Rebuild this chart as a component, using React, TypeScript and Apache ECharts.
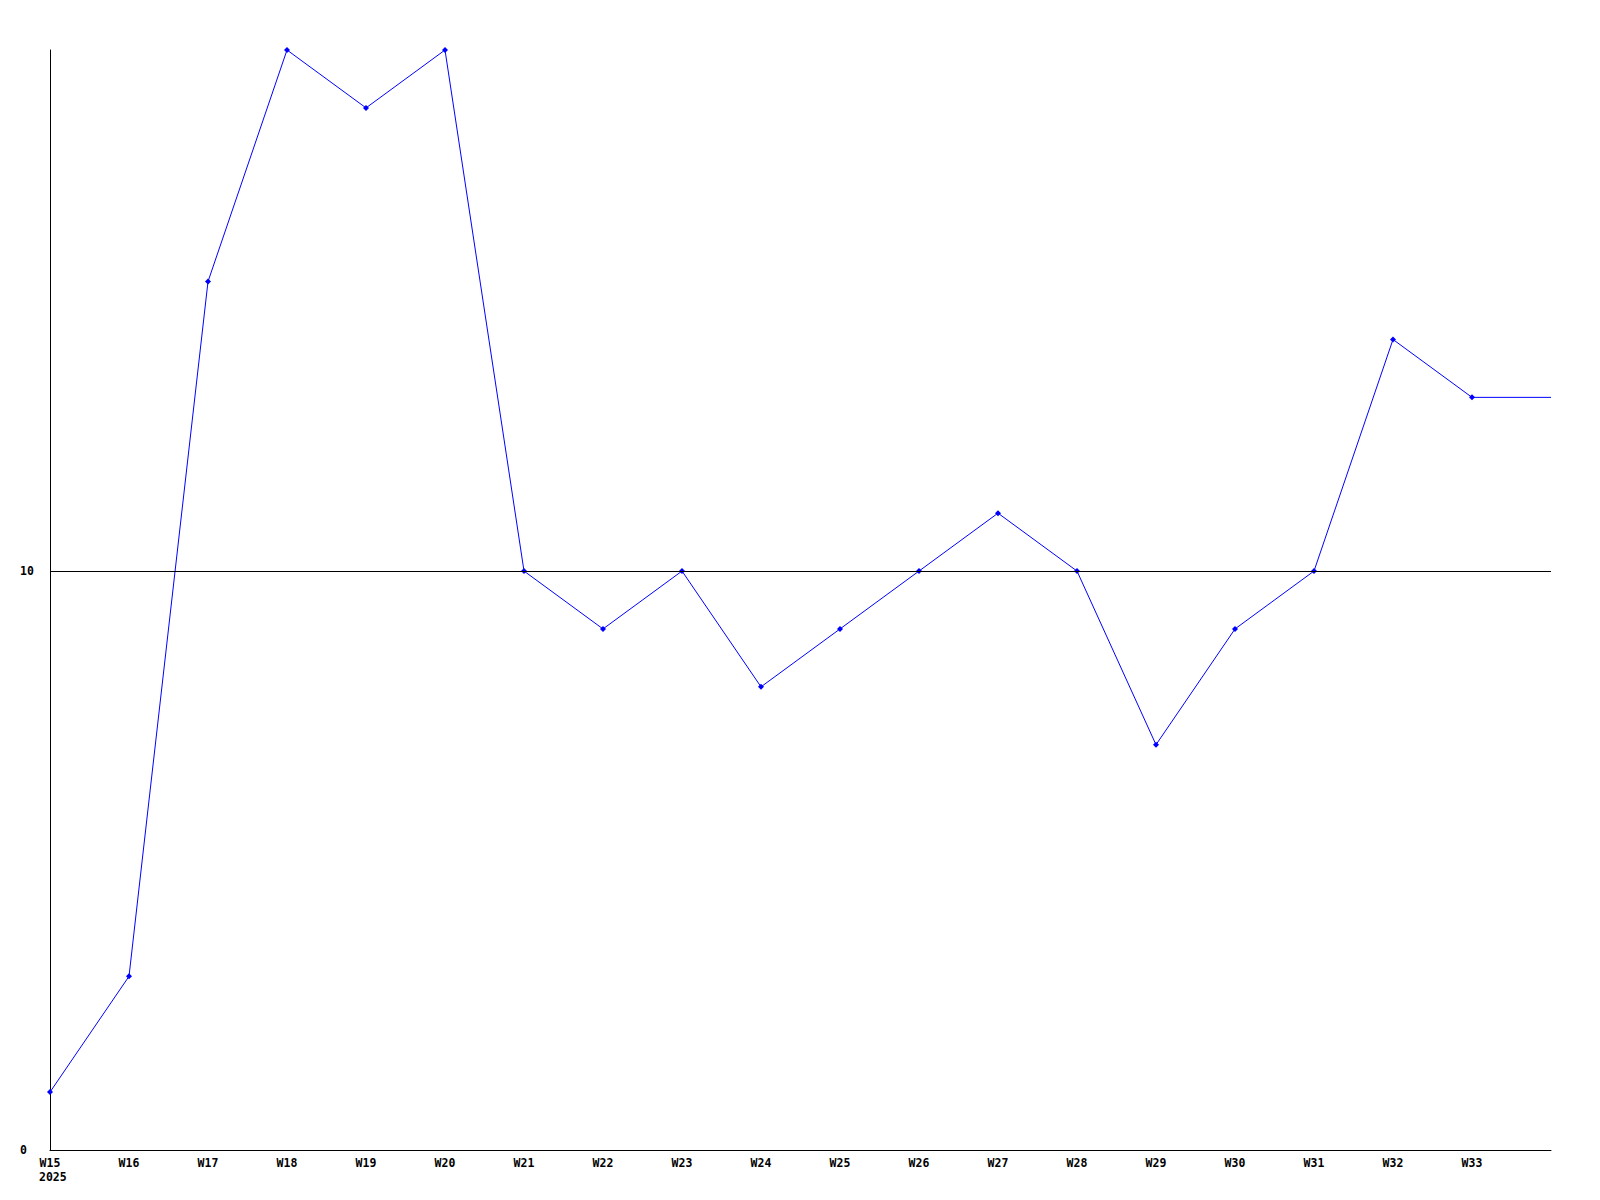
import React, { useEffect, useRef } from "react";
import * as echarts from "echarts";

const weeks = ["W15", "W16", "W17", "W18", "W19", "W20", "W21", "W22", "W23", "W24", "W25", "W26", "W27", "W28", "W29", "W30", "W31", "W32", "W33", ""];
const values = [1, 3, 15, 19, 18, 19, 10, 9, 10, 8, 9, 10, 11, 10, 7, 9, 10, 14, 13, 13];
const yearLabel = "2025";
const referenceLine = 10;
const yMin = 0;
const yMax = 19;
const yInterval = 10;

const fontFamily = "'DejaVu Sans Mono', monospace";

export default function App() {
  const ref = useRef<HTMLDivElement>(null);
  useEffect(() => {
    if (!ref.current) return;
    const chart = echarts.init(ref.current, null, { renderer: "svg" });
    const lastIdx = values.length - 1;
    chart.setOption({
      animation: false,
      backgroundColor: "#ffffff",
      grid: { left: 50, right: 49, top: 50, bottom: 50 },
      xAxis: {
        type: "category",
        data: weeks,
        boundaryGap: false,
        axisLine: { show: true, lineStyle: { color: "#000", width: 1 } },
        axisTick: { show: false },
        axisLabel: {
          interval: 0,
          margin: 7,
          color: "#000",
          fontFamily,
          fontWeight: "bold",
          fontSize: 11.5,
        },
        splitLine: { show: false },
      },
      yAxis: {
        type: "value",
        min: yMin,
        max: yMax,
        interval: yInterval,
        axisLine: { show: true, lineStyle: { color: "#000", width: 1 } },
        axisTick: { show: false },
        splitLine: { show: false },
        axisLabel: {
          margin: 30,
          align: "left",
          color: "#000",
          fontFamily,
          fontWeight: "bold",
          fontSize: 11.5,
          formatter: (v: number) => (v % yInterval === 0 ? String(v) : ""),
        },
      },
      graphic: [
        {
          type: "text",
          x: 39,
          y: 1177,
          style: {
            text: yearLabel,
            fill: "#000",
            font: `bold 11.5px ${fontFamily}`,
            textVerticalAlign: "middle",
            textAlign: "left",
          },
        },
      ],
      series: [
        {
          type: "line",
          data: values.map((v, i) => (i === lastIdx ? { value: v, symbol: "none" } : v)),
          symbol: "diamond",
          symbolSize: 6,
          showSymbol: true,
          lineStyle: { color: "#0000ff", width: 1 },
          itemStyle: { color: "#0000ff" },
          markLine: {
            silent: true,
            symbol: "none",
            label: { show: false },
            lineStyle: { color: "#000", width: 1, type: "solid" },
            data: [{ yAxis: referenceLine }],
          },
          z: 3,
        },
      ],
    });
    return () => chart.dispose();
  }, []);
  return (
    <div
      ref={ref}
      style={{ position: "absolute", left: 0, top: 0, width: 1600, height: 1200 }}
    />
  );
}
